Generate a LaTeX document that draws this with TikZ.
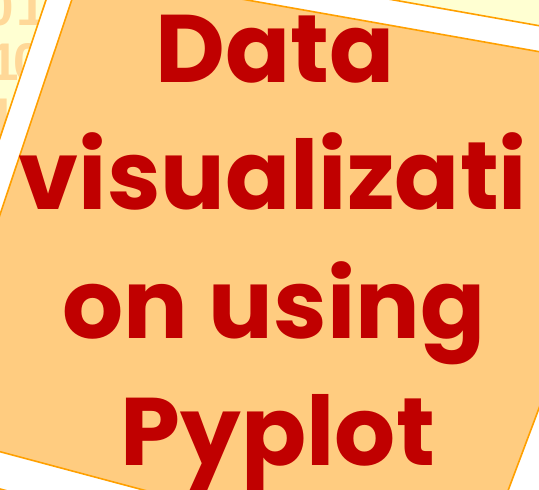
\documentclass[tikz,border=0pt]{standalone}
\usepackage{fontspec}
\newfontfamily\titlefont{Poppins Bold}
\newfontfamily\digitfont{Liberation Sans Bold}
\definecolor{paper}{HTML}{FFFFD2}
\definecolor{digitcol}{HTML}{FFD898}
\definecolor{cardfill}{HTML}{FFCC80}
\definecolor{cardline}{HTML}{FFA000}
\definecolor{titlered}{HTML}{C00000}
\tikzset{
  digit/.style={anchor=base, inner sep=0pt, text=digitcol, font=\digitfont\fontsize{53}{53}\selectfont},
  titleline/.style={anchor=base, inner sep=0pt, text=titlered, font=\titlefont\fontsize{96}{96}\selectfont},
  cardedge/.style={draw=cardline, line width=1.6pt, line join=miter},
}
\begin{document}
\begin{tikzpicture}[x=1pt, y=-1pt]
  \useasboundingbox (0,0) rectangle (539,490);
  \clip (0,0) rectangle (539,490);
  % paper background
  \fill[paper] (0,0) rectangle (539,490);
  % binary digits printed on the paper
  \node[digit] (d11) at (-1,25) {0};
  \node[digit] (d12) at (31,25) {1};
  \node[digit] (d21) at (4,80) {1};
  \node[digit] (d22) at (28,80) {0};
  \node[digit] (d31) at (2,135) {1};
  \node[digit] (d32) at (26,135) {0};
  % card: white mount and orange face
  \filldraw[cardedge, fill=white] (65.4,-58.1) -- (713.7,56.6) -- (500.8,622.7) -- (-107.7,460.2) -- cycle;
  \filldraw[cardedge, fill=cardfill] (81.5,-29.3) -- (664.7,73.9) -- (475,578.5) -- (-72.7,432.3) -- cycle;
  % title
  \node[titleline] (l1) at (275,82) {Data};
  \node[titleline] (l2) at (273,209) {visualizati};
  \node[titleline] (l3) at (274,338) {on using};
  \node[titleline] (l4) at (278,465) {Pyplot};
\end{tikzpicture}
\end{document}
